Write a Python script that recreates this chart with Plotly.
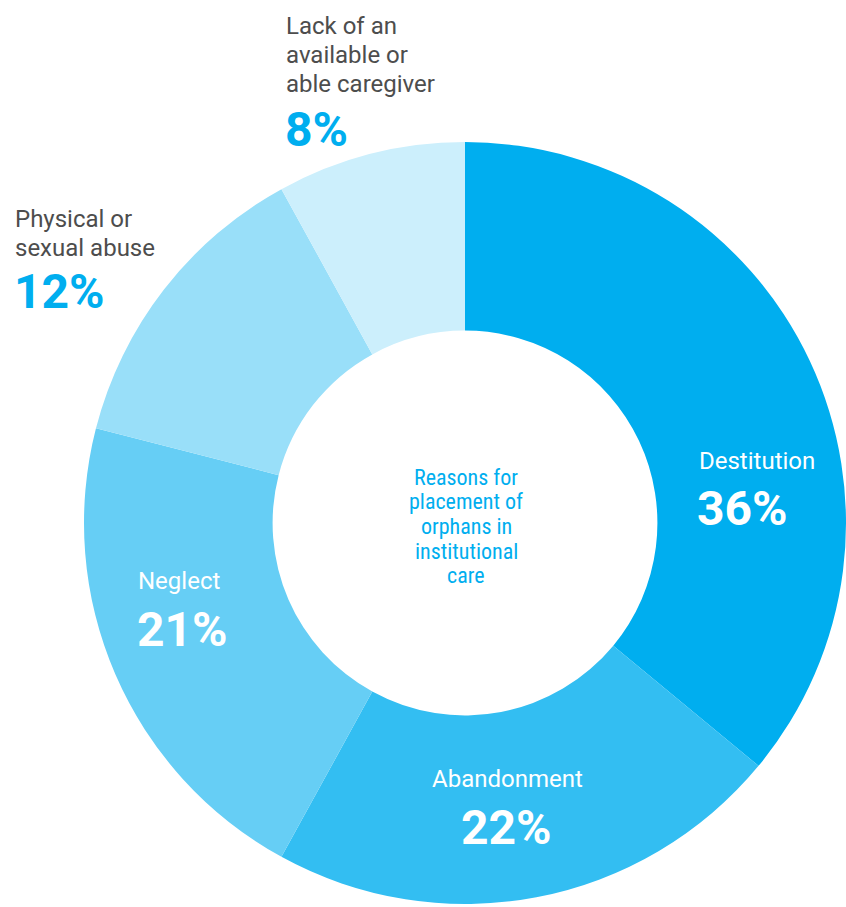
import plotly.graph_objects as go

# ---- data ----
categories = ["Destitution", "Abandonment", "Neglect",
              "Physical or<br>sexual abuse",
              "Lack of an<br>available or<br>able caregiver"]
pct_labels = ["36%", "22%", "21%", "12%", "8%"]
# slice shares as drawn in the picture (arcs measured)
slice_share = [36, 22, 21, 13, 8]
colors = ["#00AEEF", "#33BEF2", "#66CEF5", "#99DFF9", "#CCEFFC"]
center_title = "Reasons for<br>placement of<br>orphans in<br>institutional<br>care"

W, H = 846, 907
L, T, B = 84, 142, 3
PW = W - L
PH = H - T - B

def px(x):
    return (x - L) / PW

def py(y):
    return (H - B - y) / PH

fig = go.Figure(go.Pie(
    labels=categories,
    values=slice_share,
    hole=0.505,
    sort=False,
    direction="clockwise",
    rotation=0,
    textinfo="none",
    hoverinfo="label",
    marker=dict(colors=colors, line=dict(color="white", width=0)),
    showlegend=False,
))

GRAY = "#4D4D4D"
BLUE = "#00AEEF"
label_font = "Roboto, Arial, sans-serif"
narrow_font = "Roboto Condensed, Liberation Sans Narrow, Roboto, sans-serif"

ann = []
def add(text, x, y, size, color, xanchor="left", bold=False, family=label_font, spacing=29):
    lines = text.split("<br>")
    n = len(lines)
    for i, line in enumerate(lines):
        yy = y + (i - (n - 1) / 2) * spacing
        ann.append(dict(
            text=f"<b>{line}</b>" if bold else line,
            x=px(x), y=py(yy), xref="paper", yref="paper",
            xanchor=xanchor, yanchor="middle",
            showarrow=False,
            font=dict(family=family, size=size, color=color),
        ))

LS, PS = 24, 48
# outside labels
add(categories[4], 284, 55, LS, GRAY)
add(pct_labels[4], 283, 129, PS, BLUE, bold=True)
add(categories[3], 13, 233.5, LS, GRAY)
add(pct_labels[3], 12, 291, PS, BLUE, bold=True)
# inside labels
add(categories[0], 697, 461, LS, "white")
add(pct_labels[0], 695, 508, PS, "white", bold=True)
add(categories[1], 507, 779, LS, "white", xanchor="center")
add(pct_labels[1], 506, 827, PS, "white", xanchor="center", bold=True)
add(categories[2], 136, 581, LS, "white")
add(pct_labels[2], 135, 629, PS, "white", bold=True)
# center title
add(center_title, 466, 526.5, 22, BLUE, xanchor="center", family=narrow_font, spacing=24.7)

fig.update_layout(
    width=W, height=H,
    margin=dict(l=L, r=0, t=T, b=B, autoexpand=False),
    paper_bgcolor="white",
    plot_bgcolor="white",
    annotations=ann,
)

fig.write_html(
    "out.html",
    config={"displayModeBar": False},
    post_script="document.body.style.margin='0';document.body.style.overflow='hidden';",
)
